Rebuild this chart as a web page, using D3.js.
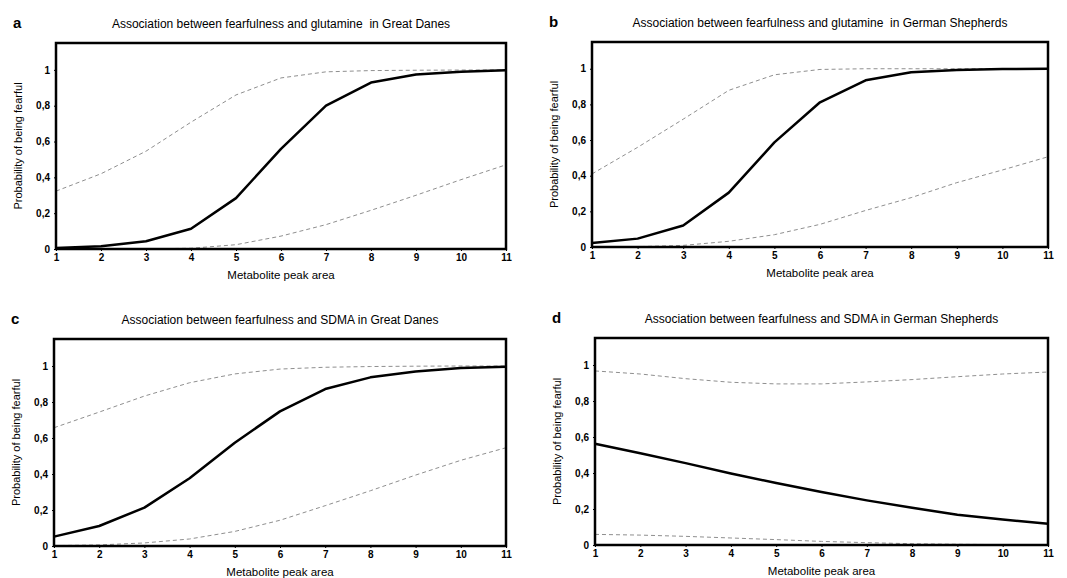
<!DOCTYPE html>
<html lang="en">
<head>
<meta charset="utf-8">
<title>Fearfulness and metabolites</title>
<script src="https://cdn.jsdelivr.net/npm/d3@7"></script>
<style>
  body { margin: 0; background: #fff; }
  svg { display: block; font-family: "Liberation Sans", Arial, sans-serif; }
</style>
</head>
<body>
<script>
// x values (metabolite peak area)
var xValues = [1, 2, 3, 4, 5, 6, 7, 8, 9, 10, 11];
var yTicks = [0, 0.2, 0.4, 0.6, 0.8, 1];

var panelLetters = ["a", "b", "c", "d"];
var panelTitles = [
  "Association between fearfulness and glutamine  in Great Danes",
  "Association between fearfulness and glutamine  in German Shepherds",
  "Association between fearfulness and SDMA in Great Danes",
  "Association between fearfulness and SDMA in German Shepherds"
];

// fitted probability and the two confidence bounds, one array each
var aFit   = [0.005, 0.015, 0.043, 0.113, 0.284, 0.559, 0.800, 0.929, 0.974, 0.990, 0.998];
var aUpper = [0.323, 0.420, 0.546, 0.708, 0.860, 0.955, 0.989, 0.996, 0.998, 0.999, 1.000];
var aLower = [0.000, 0.000, 0.001, 0.004, 0.024, 0.072, 0.136, 0.216, 0.300, 0.387, 0.470];

var bFit   = [0.022, 0.047, 0.121, 0.305, 0.587, 0.812, 0.935, 0.980, 0.993, 0.998, 1.000];
var bUpper = [0.410, 0.559, 0.717, 0.879, 0.966, 0.996, 1.000, 1.000, 1.000, 1.000, 1.000];
var bLower = [0.000, 0.002, 0.009, 0.032, 0.069, 0.127, 0.205, 0.277, 0.361, 0.432, 0.506];

var cFit   = [0.052, 0.111, 0.213, 0.376, 0.574, 0.748, 0.872, 0.937, 0.970, 0.989, 0.996];
var cUpper = [0.657, 0.744, 0.833, 0.907, 0.956, 0.983, 0.993, 0.997, 0.999, 1.000, 1.000];
var cLower = [0.002, 0.006, 0.017, 0.039, 0.081, 0.143, 0.224, 0.307, 0.394, 0.476, 0.546];

var dFit   = [0.562, 0.510, 0.455, 0.397, 0.344, 0.294, 0.248, 0.207, 0.168, 0.142, 0.118];
var dUpper = [0.967, 0.950, 0.924, 0.904, 0.895, 0.895, 0.906, 0.919, 0.935, 0.950, 0.961];
var dLower = [0.059, 0.055, 0.048, 0.039, 0.030, 0.020, 0.013, 0.007, 0.004, 0.002, 0.001];

var w = 1067, h = 578;
var svg = d3.select("body").append("svg").attr("width", w).attr("height", h);

// where each panel sits on the page
var boxes = [
  {left: 56,  right: 506,  top: 43,  bottom: 249},
  {left: 592, right: 1048, top: 42,  bottom: 247},
  {left: 54,  right: 506,  top: 339, bottom: 546},
  {left: 595, right: 1048, top: 338, bottom: 545}
];
var series = [
  [aFit, aUpper, aLower],
  [bFit, bUpper, bLower],
  [cFit, cUpper, cLower],
  [dFit, dUpper, dLower]
];

boxes.forEach(function(b, i) {
  var g = svg.append("g");
  var x = d3.scaleLinear().domain([1, 11]).range([b.left, b.right]);
  var y = d3.scaleLinear().domain([0, 1.15]).range([b.bottom, b.top]);
  var mid = (b.left + b.right) / 2;

  // panel letter and title
  g.append("text")
    .attr("x", b.left - 43).attr("y", b.top - 15)
    .attr("font-size", "15px").attr("font-weight", "bold")
    .text(panelLetters[i]);
  g.append("text")
    .attr("x", mid).attr("y", b.top - 15)
    .attr("text-anchor", "middle").attr("font-size", "12px")
    .style("white-space", "pre")
    .text(panelTitles[i]);

  // axes
  var yAxis = d3.axisLeft(y).tickValues(yTicks).tickSize(2).tickPadding(4)
    .tickFormat(function(d) { return d3.format("~g")(d).replace(".", ","); });
  var xAxis = d3.axisBottom(x).tickValues(xValues).tickSize(2).tickPadding(3)
    .tickFormat(d3.format("d"));

  var ya = g.append("g").attr("transform", "translate(" + b.left + ",0)").call(yAxis);
  var xa = g.append("g").attr("transform", "translate(0," + b.bottom + ")").call(xAxis);
  [ya, xa].forEach(function(a) {
    a.select(".domain").remove();
    a.selectAll("text").attr("font-size", "10px").attr("font-weight", "bold")
      .attr("fill", "#000").attr("font-family", "'Liberation Sans', Arial, sans-serif");
    a.selectAll("line").attr("stroke", "#000");
  });

  // axis titles
  g.append("text")
    .attr("x", mid).attr("y", b.bottom + 30)
    .attr("text-anchor", "middle").attr("font-size", "11.5px")
    .text("Metabolite peak area");
  g.append("text")
    .attr("transform", "translate(" + (b.left - 34) + "," + ((b.top + b.bottom) / 2) + ") rotate(-90)")
    .attr("text-anchor", "middle").attr("font-size", "11px")
    .text("Probability of being fearful");

  var line = d3.line()
    .x(function(d, j) { return x(xValues[j]); })
    .y(function(d) { return y(d); });

  // confidence bounds (dashed grey)
  [series[i][1], series[i][2]].forEach(function(s) {
    g.append("path").datum(s)
      .attr("d", line)
      .attr("fill", "none")
      .attr("stroke", "#8f8f8f")
      .attr("stroke-width", 1)
      .attr("stroke-dasharray", "4,3");
  });

  // fitted curve
  g.append("path").datum(series[i][0])
    .attr("d", line)
    .attr("fill", "none")
    .attr("stroke", "#000")
    .attr("stroke-width", 2.5)
    .attr("stroke-linejoin", "round");

  // plot frame
  g.append("rect")
    .attr("x", b.left).attr("y", b.top)
    .attr("width", b.right - b.left).attr("height", b.bottom - b.top)
    .attr("fill", "none").attr("stroke", "#000").attr("stroke-width", 2.5);
});
</script>
</body>
</html>
